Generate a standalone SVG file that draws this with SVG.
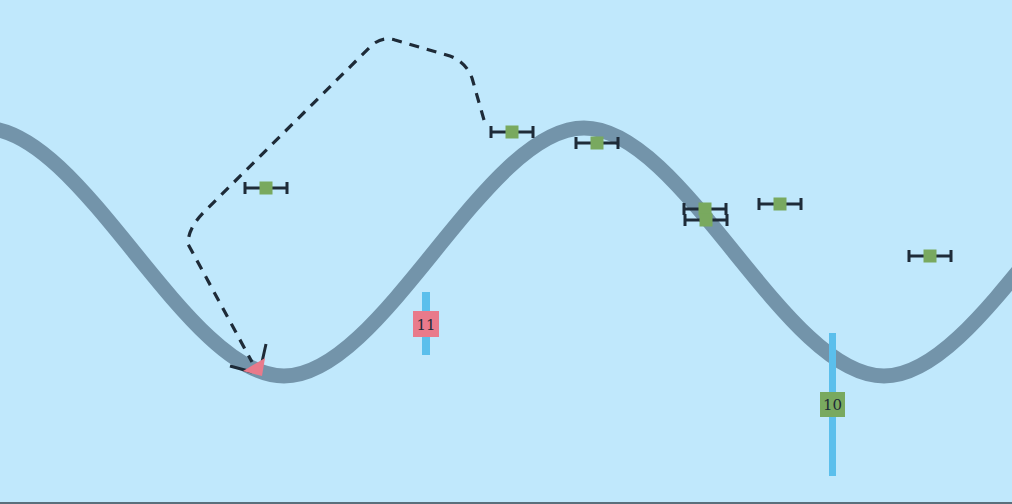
<svg xmlns="http://www.w3.org/2000/svg" width="1012" height="504" viewBox="0 0 1012 504">
<style>
.wave{fill:none;stroke:#7394aa;stroke-width:15}
.dash{fill:none;stroke:#1e2b38;stroke-width:3.2;stroke-dasharray:10 8}
.bar{stroke:#1e2b38;stroke-width:3;fill:none}
.sq{fill:#79a95f}
.vbar{fill:#5bbfec}
.lbl{font-family:"DejaVu Serif","Liberation Serif",serif;font-size:15px;fill:#1e2b38;text-anchor:middle}
</style>
<defs>
<g id="eb"><path class="bar" d="M-21,-6V6M21,-6V6M-21,0H21"/><rect class="sq" x="-6.5" y="-6.5" width="13" height="13"/></g>
</defs>
<rect width="1012" height="504" fill="#c0e8fc"/>
<line x1="0" y1="503" x2="1012" y2="503" stroke="#5a6f7c" stroke-width="2"/>
<g id="wave"><path class="wave" d="M-16,128 C83,128 185,376 284,376 C383,376 485,128 584,128 C683,128 785,376 884,376 C983,376 1085,128 1184,128"/></g>
<g id="connectors">
<path class="dash" d="M484,120 L472,78 Q466,62 450,56 L395,40 Q383,36 372,45 L204,212 Q188,228 188,244 L252,362"/>
<path class="bar" d="M230,366 L252,372 M266,344 L262,362"/>
<polygon points="243,371 265,358 262,376" fill="#e97a8b"/>
</g>
<g id="m1"><use href="#eb" x="266" y="188"/></g>
<g id="m2"><use href="#eb" x="512" y="132"/></g>
<g id="m3"><use href="#eb" x="597" y="143"/></g>
<g id="m4"><use href="#eb" x="705" y="209"/></g>
<g id="m5"><use href="#eb" x="706" y="220"/></g>
<g id="m6"><use href="#eb" x="780" y="204"/></g>
<g id="m7"><use href="#eb" x="930" y="256"/></g>
<g id="n11"><rect class="vbar" x="422" y="292" width="8" height="63"/><rect x="413" y="311" width="26" height="26" fill="#e97a8b"/><text class="lbl" x="426" y="329.5">11</text></g>
<g id="n10"><rect class="vbar" x="829" y="333" width="7" height="143"/><rect x="820" y="392" width="25" height="25" fill="#79a95f"/><text class="lbl" x="832.5" y="410">10</text></g>
</svg>
